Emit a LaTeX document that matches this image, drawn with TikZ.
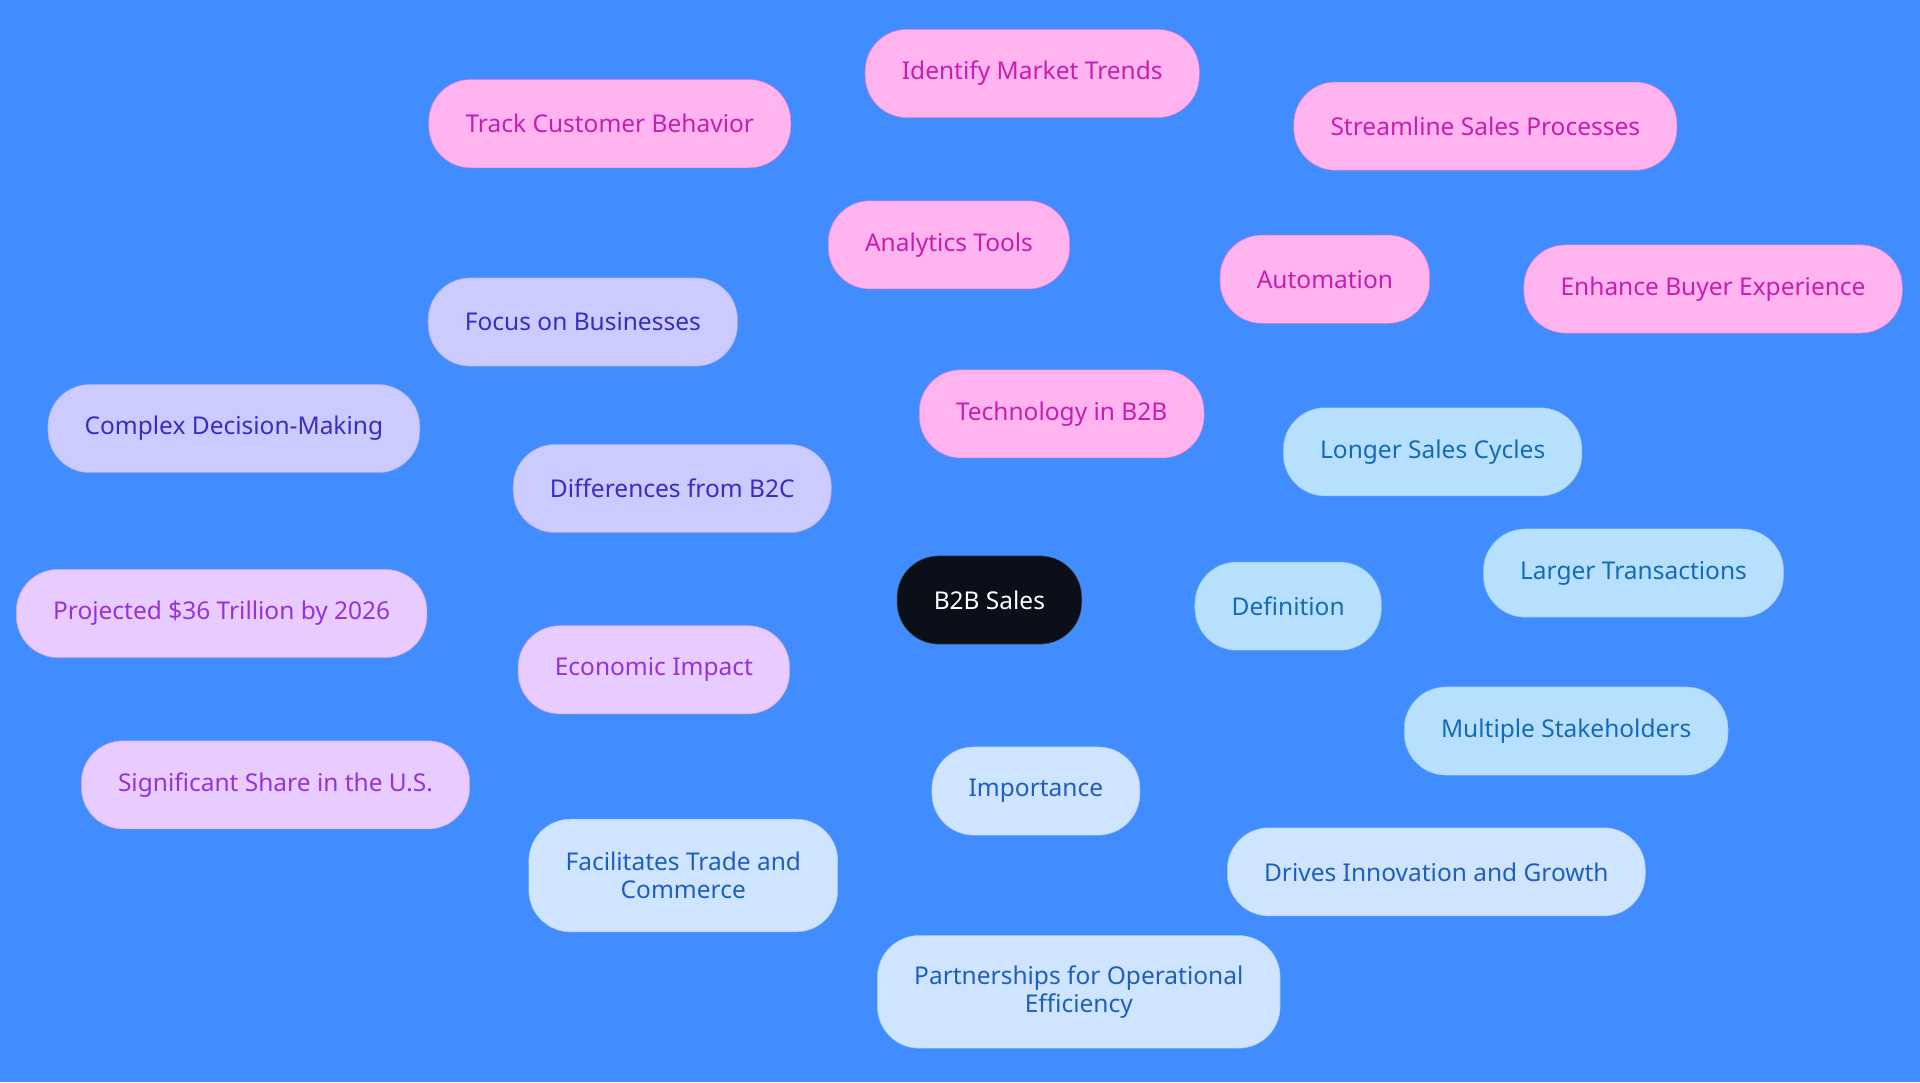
\documentclass[tikz,border=0pt]{standalone}
\usepackage{fontspec}
\setmainfont{Noto Sans}
\usetikzlibrary{positioning}
\definecolor{bgblue}{RGB}{65,141,255}
\definecolor{rootfill}{RGB}{11,15,25}
\definecolor{pinkfill}{RGB}{255,180,240}
\definecolor{pinktext}{RGB}{200,30,175}
\definecolor{lavfill}{RGB}{203,203,255}
\definecolor{lavtext}{RGB}{55,45,190}
\definecolor{purpfill}{RGB}{232,204,255}
\definecolor{purptext}{RGB}{150,50,215}
\definecolor{skyfill}{RGB}{183,224,255}
\definecolor{skytext}{RGB}{20,105,185}
\definecolor{palefill}{RGB}{207,228,255}
\definecolor{paletext}{RGB}{30,95,190}
\pgfdeclarelayer{bg}
\pgfsetlayers{bg,main}
\tikzset{
  box/.style={rounded corners=34pt, minimum height=72pt, inner xsep=30pt,
    align=center, font=\fontsize{20}{23}\selectfont},
  root/.style={box, fill=rootfill, draw=gray!60!black, text=white},
  tech/.style={box, fill=pinkfill, draw=pinktext!40!pinkfill, text=pinktext},
  diff/.style={box, fill=lavfill, draw=lavtext!25!lavfill, text=lavtext},
  econ/.style={box, fill=purpfill, draw=purptext!30!purpfill, text=purptext},
  defn/.style={box, fill=skyfill, draw=skytext!25!skyfill, text=skytext},
  impo/.style={box, fill=palefill, draw=paletext!20!palefill, text=paletext},
  link/.style={line width=2.2pt}
}
\begin{document}
\begin{tikzpicture}[x=1pt,y=-1pt]
\fill[bgblue] (0,0) rectangle (1568,884);
\useasboundingbox (0,0) rectangle (1568,884);
% root
\node[root] (sales) at (808,490) {B2B Sales};
% technology
\node[tech] (tech) at (867,338) {Technology in B2B};
\node[tech] (analytics) at (775,200) {Analytics Tools};
\node[tech] (trends) at (843,60) {Identify Market Trends};
\node[tech] (behavior) at (498,101) {Track Customer Behavior};
\node[tech] (auto) at (1082,228) {Automation};
\node[tech] (stream) at (1213,103) {Streamline Sales Processes};
\node[tech] (buyer) at (1399,236) {Enhance Buyer Experience};
% differences
\node[diff] (diff) at (549,399) {Differences from B2C};
\node[diff] (focus) at (476,263) {Focus on Businesses};
\node[diff] (complex) at (191,350) {Complex Decision-Making};
% economic
\node[econ] (econ) at (534,547) {Economic Impact};
\node[econ] (proj) at (181,501) {Projected \$36 Trillion by 2026};
\node[econ] (share) at (225,641) {Significant Share in the U.S.};
% definition
\node[defn] (defn) at (1052,495) {Definition};
\node[defn] (cycles) at (1170,369) {Longer Sales Cycles};
\node[defn] (trans) at (1334,468) {Larger Transactions};
\node[defn] (stake) at (1279,597) {Multiple Stakeholders};
% importance
\node[impo] (impo) at (846,646) {Importance};
\node[impo, minimum height=92pt] (trade) at (558,715) {Facilitates Trade and\\Commerce};
\node[impo, minimum height=92pt] (partner) at (881,810) {Partnerships for Operational\\Efficiency};
\node[impo] (drives) at (1173,712) {Drives Innovation and Growth};
% connectors
\begin{pgfonlayer}{bg}
\draw[link, pinkfill!80!magenta] (sales) -- (tech) (tech) -- (analytics) (analytics) -- (trends)
  (analytics) -- (behavior) (tech) -- (auto) (auto) -- (stream) (auto) -- (buyer);
\draw[link, lavfill!80!blue] (sales) -- (diff) (diff) -- (focus) (diff) -- (complex);
\draw[link, purpfill!60!magenta] (sales) -- (econ) (econ) -- (proj) (econ) -- (share);
\draw[link, skyfill!90!blue] (sales) -- (defn) (defn) -- (cycles) (defn) -- (trans) (defn) -- (stake);
\draw[link, palefill!85!blue] (sales) -- (impo) (impo) -- (trade) (impo) -- (partner) (impo) -- (drives);
\end{pgfonlayer}
\end{tikzpicture}
\end{document}
